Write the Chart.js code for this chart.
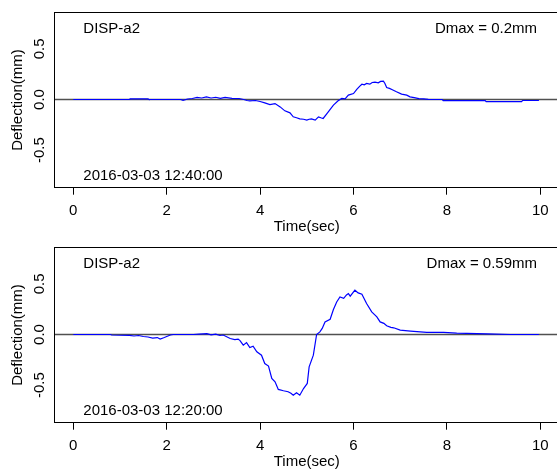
<!DOCTYPE html>
<html>
<head>
<meta charset="utf-8">
<script src="https://cdn.jsdelivr.net/npm/chart.js@4.4.1/dist/chart.umd.min.js"></script>
<style>
  html, body { margin: 0; padding: 0; background: #fff; overflow: hidden; width: 557px; height: 470px; }
  .panel { position: absolute; left: 0; width: 559px; height: 235px; }
  #p1 { top: 0; }
  #p2 { top: 235px; }
</style>
</head>
<body>
<div class="panel" id="p1"><canvas id="c1" width="559" height="235"></canvas></div>
<div class="panel" id="p2"><canvas id="c2" width="559" height="235"></canvas></div>
<script>
// ---- data ----
const xTickVals = [0, 2, 4, 6, 8, 10];
const xTickLabels = ['0', '2', '4', '6', '8', '10'];
const yTickVals = [-0.5, 0, 0.5];
const yTickLabels = ['-0.5', '0.0', '0.5'];

const sensorName = 'DISP-a2';
const topStamp = '2016-03-03 12:40:00';
const topDmax = 'Dmax = 0.2mm';
const botStamp = '2016-03-03 12:20:00';
const botDmax = 'Dmax = 0.59mm';

const topTime = [0, 1.2, 1.22, 1.6, 1.62, 2.3, 2.35, 2.45, 2.55, 2.65, 2.75, 2.85, 2.95, 3.05, 3.15, 3.25, 3.4, 3.55, 3.65, 3.72, 3.78, 3.9, 4.0, 4.1, 4.21, 4.32, 4.43, 4.53, 4.64, 4.71, 4.78, 4.85, 4.93, 5.0, 5.05, 5.1, 5.18, 5.25, 5.3, 5.35, 5.46, 5.57, 5.67, 5.75, 5.82, 5.89, 6.0, 6.07, 6.13, 6.18, 6.23, 6.28, 6.35, 6.4, 6.46, 6.53, 6.58, 6.64, 6.67, 6.71, 6.77, 6.82, 6.92, 7.03, 7.14, 7.21, 7.3, 7.4, 7.5, 7.6, 7.9, 7.92, 8.82, 8.84, 9.6, 9.62, 9.97];
const topDefl = [0, 0, 0.006, 0.006, 0, 0, -0.008, 0.005, 0.01, 0.02, 0.015, 0.025, 0.015, 0.022, 0.012, 0.02, 0.012, 0.01, 0.0, -0.01, -0.014, -0.01, -0.02, -0.033, -0.05, -0.04, -0.073, -0.112, -0.132, -0.171, -0.18, -0.191, -0.195, -0.204, -0.195, -0.191, -0.204, -0.171, -0.18, -0.187, -0.122, -0.056, -0.013, 0.01, 0.007, 0.043, 0.059, 0.099, 0.13, 0.151, 0.145, 0.158, 0.151, 0.168, 0.171, 0.164, 0.178, 0.18, 0.16, 0.118, 0.11, 0.099, 0.076, 0.053, 0.043, 0.026, 0.018, 0.008, 0.006, 0.002, 0.0, -0.012, -0.012, -0.022, -0.022, -0.01, -0.01];

const botTime = [0, 0.8, 0.82, 1.2, 1.3, 1.4, 1.5, 1.6, 1.7, 1.8, 1.86, 1.95, 2.0, 2.08, 2.14, 2.57, 2.7, 2.86, 2.95, 3.05, 3.14, 3.21, 3.36, 3.46, 3.53, 3.57, 3.64, 3.71, 3.78, 3.85, 3.93, 4.03, 4.1, 4.18, 4.25, 4.32, 4.39, 4.5, 4.6, 4.66, 4.71, 4.78, 4.85, 4.93, 5.01, 5.05, 5.14, 5.21, 5.28, 5.33, 5.39, 5.5, 5.57, 5.64, 5.71, 5.79, 5.85, 5.89, 5.93, 6.03, 6.1, 6.18, 6.28, 6.39, 6.5, 6.57, 6.65, 6.71, 6.8, 6.86, 7.0, 7.22, 7.57, 7.93, 8.21, 8.86, 9.36, 9.97];
const botDefl = [0, 0, -0.005, -0.008, -0.015, -0.01, -0.02, -0.025, -0.035, -0.03, -0.045, -0.03, -0.02, -0.005, 0, 0, 0.003, 0.008, -0.003, 0.003, -0.01, -0.005, -0.04, -0.05, -0.045, -0.06, -0.105, -0.08, -0.128, -0.115, -0.171, -0.204, -0.286, -0.312, -0.434, -0.467, -0.542, -0.555, -0.565, -0.58, -0.599, -0.575, -0.599, -0.533, -0.483, -0.319, -0.204, 0, 0.026, 0.06, 0.124, 0.15, 0.246, 0.32, 0.37, 0.357, 0.39, 0.404, 0.378, 0.437, 0.41, 0.397, 0.305, 0.223, 0.174, 0.124, 0.11, 0.086, 0.07, 0.066, 0.043, 0.033, 0.02, 0.02, 0.013, 0.007, 0, 0];

const xMin = -0.4, xMax = 10.4;
const yMin = -0.87, yMax = 0.86;

// ---- chart ----
Chart.defaults.font.family = '"Liberation Sans", Arial, sans-serif';
Chart.defaults.font.size = 15;
Chart.defaults.color = '#000';

const FONT = '15px "Liberation Sans", Arial, sans-serif';

function boxAndText(labels) {
  return {
    id: 'boxText',
    afterDraw(chart) {
      const { ctx, chartArea: a } = chart;
      ctx.save();
      ctx.strokeStyle = '#000';
      ctx.lineWidth = 1;
      const l = Math.floor(a.left) + 0.5, t = Math.floor(a.top) + 0.5;
      const r = Math.floor(a.right) + 0.5, b = Math.floor(a.bottom) + 0.5;
      ctx.strokeRect(l, t, r - l, b - t);
      ctx.fillStyle = '#000';
      ctx.font = FONT;
      ctx.textBaseline = 'alphabetic';
      ctx.textAlign = 'left';
      ctx.fillText(labels.name, 83.3, a.top + 21);
      ctx.fillText(labels.stamp, 83.3, a.bottom - 7.7);
      ctx.textAlign = 'right';
      ctx.fillText(labels.dmax, 537, a.top + 21);
      ctx.restore();
    }
  };
}

function makeChart(id, times, defl, labels) {
  const pts = times.map((t, i) => ({ x: t, y: defl[i] }));
  return new Chart(document.getElementById(id), {
    type: 'line',
    data: {
      datasets: [
        {
          data: [{ x: xMin, y: 0 }, { x: xMax, y: 0 }],
          borderColor: '#505050',
          borderWidth: 1.3,
          pointRadius: 0,
          order: 2
        },
        {
          data: pts,
          borderColor: '#0000ff',
          borderWidth: 1.2,
          pointRadius: 0,
          tension: 0,
          order: 1
        }
      ]
    },
    options: {
      responsive: false,
      animation: false,
      devicePixelRatio: 1,
      layout: { padding: { left: 0, right: 0, top: 12.3, bottom: 0 } },
      plugins: { legend: { display: false }, tooltip: { enabled: false } },
      scales: {
        x: {
          type: 'linear',
          min: xMin,
          max: xMax,
          afterBuildTicks(scale) { scale.ticks = xTickVals.map(v => ({ value: v })); },
          afterFit(scale) { scale.height = 47.3; },
          border: { display: false },
          grid: { display: true, drawOnChartArea: false, drawTicks: true, tickLength: 7, color: '#000', lineWidth: 1 },
          ticks: {
            autoSkip: false, maxRotation: 0, padding: 7.3, color: '#000', font: { size: 15 },
            callback: (v) => xTickLabels[xTickVals.indexOf(v)]
          },
          title: { display: true, text: 'Time(sec)', color: '#000', font: { size: 15 }, padding: { top: 0, bottom: -1 } }
        },
        y: {
          type: 'linear',
          min: yMin,
          max: yMax,
          afterBuildTicks(scale) { scale.ticks = yTickVals.map(v => ({ value: v })); },
          afterFit(scale) { scale.width = 54.6; },
          border: { display: false },
          grid: { display: false, drawTicks: false },
          ticks: {
            minRotation: 90, maxRotation: 90, crossAlign: 'center', padding: 1.7, color: '#000', font: { size: 15 },
            callback: (v) => yTickLabels[yTickVals.indexOf(v)]
          },
          title: { display: true, text: 'Deflection(mm)', color: '#000', font: { size: 15 }, padding: { top: 9, bottom: 0 } }
        }
      }
    },
    plugins: [boxAndText(labels)]
  });
}

makeChart('c1', topTime, topDefl, { name: sensorName, stamp: topStamp, dmax: topDmax });
makeChart('c2', botTime, botDefl, { name: sensorName, stamp: botStamp, dmax: botDmax });
</script>
</body>
</html>
